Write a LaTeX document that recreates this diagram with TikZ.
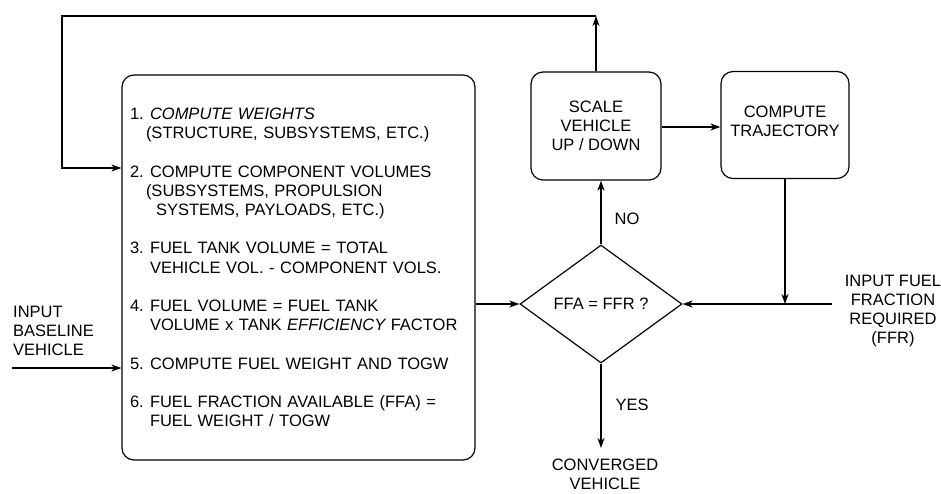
\documentclass[tikz,border=0pt]{standalone}
\usepackage{fontspec}
\setmainfont{Liberation Sans}
\usetikzlibrary{shapes.geometric,arrows.meta}
\newcommand{\nm}[1]{\makebox[20pt][l]{#1}}
\newcommand{\ind}{\hspace*{20pt}}
\begin{document}
\begin{tikzpicture}[x=1pt,y=-1pt,
  every node/.style={font=\fontsize{16.5}{19.2}\selectfont},
  conn/.style={line width=1.2pt},
  arr/.style={conn,-{Stealth[length=10pt,width=7pt,inset=3pt]}},
  rbox/.style={draw,line width=1.2pt,rounded corners=12pt,align=center,inner sep=0pt},
  lbl/.style={inner sep=0pt,align=center}]
\useasboundingbox (0,0) rectangle (941,493);
% main box
\node[rbox,minimum width=353pt,minimum height=385pt,text width=337pt,align=left] (main) at (298.5,267.5) {%
\nm{1.}{\itshape COMPUTE WEIGHTS}\\
\ind\hspace*{-4pt}(STRUCTURE, SUBSYSTEMS, ETC.)\\[19.2pt]
\nm{2.}COMPUTE COMPONENT VOLUMES\\
\ind\hspace*{-4pt}(SUBSYSTEMS, PROPULSION\\
\ind\hspace*{6pt}SYSTEMS, PAYLOADS, ETC.)\\[19.2pt]
\nm{3.}FUEL TANK VOLUME = TOTAL\\
\ind VEHICLE VOL. - COMPONENT VOLS.\\[19.2pt]
\nm{4.}FUEL VOLUME = FUEL TANK\\
\ind VOLUME x TANK {\itshape EFFICIENCY} FACTOR\\[19.2pt]
\nm{5.}COMPUTE FUEL WEIGHT AND TOGW\\[19.2pt]
\nm{6.}FUEL FRACTION AVAILABLE (FFA) =\\
\ind FUEL WEIGHT / TOGW};
% right boxes
\node[rbox,minimum width=130pt,minimum height=108pt] (scale) at (596,126) {SCALE\\VEHICLE\\UP / DOWN};
\node[rbox,minimum width=128pt,minimum height=107pt] (traj) at (785,125) {};
\node[lbl] (trajText) at (785,121) {COMPUTE\\TRAJECTORY};
\node[draw,diamond,line width=1.2pt,minimum width=162pt,minimum height=118pt,inner sep=0pt,aspect=1.37] (dia) at (601,304) {FFA = FFR ?};
% labels
\node[lbl,anchor=west,align=left] (inbase) at (13,331) {INPUT\\BASELINE\\VEHICLE};
\node[lbl] (inffr) at (893,311) {INPUT FUEL\\FRACTION\\REQUIRED\\(FFR)};
\node[lbl] (conv) at (605,474) {CONVERGED\\VEHICLE};
\node[lbl] (no) at (627,219) {NO};
\node[lbl] (yes) at (632,405) {YES};
% coordinates
\coordinate (topR) at (596,16);
\coordinate (topL) at (62,16);
\coordinate (loopIn) at (62,168);
\coordinate (baseIn) at (12,368);
\coordinate (ffrEnd) at (832,304);
\coordinate (convEnd) at (601,448);
\coordinate (joint) at (traj.south |- dia.east);
% connectors
\draw[arr] (scale.north) -- (topR);
\draw[arr] (topR) -- (topL) -- (loopIn) -- (main.west |- loopIn);
\draw[arr] (baseIn) -- (main.west |- baseIn);
\draw[arr] (main.east |- dia.west) -- (dia.west);
\draw[arr] (dia.north) -- (dia.north |- scale.south);
\draw[arr] (scale.east |- 0,127) -- (traj.west |- 0,127);
\draw[arr] (traj.south) -- (joint);
\draw[arr] (ffrEnd) -- (dia.east);
\draw[arr] (dia.south) -- (convEnd);
\end{tikzpicture}
\end{document}
